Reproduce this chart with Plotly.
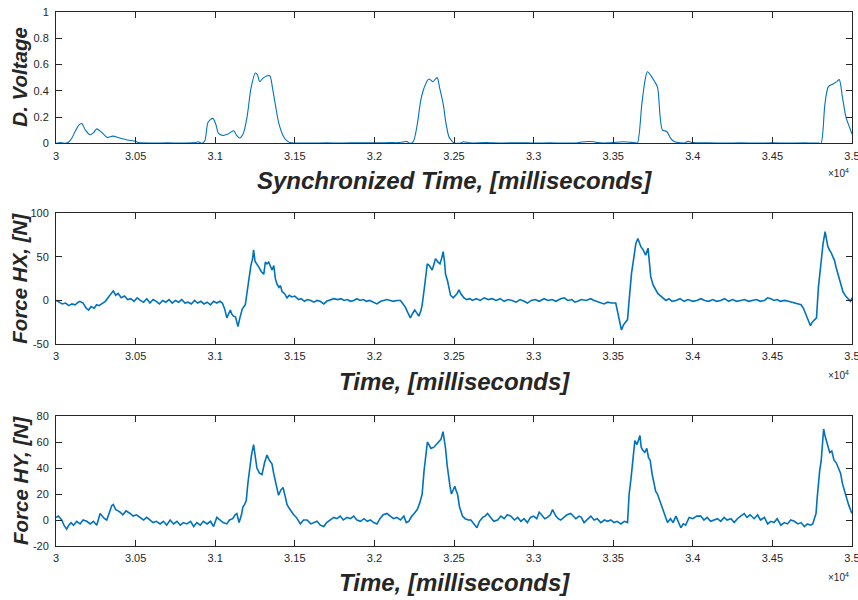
import plotly.graph_objects as go

# ---------------- data ----------------
volt_t = [30000, 30030, 30060, 30080, 30100, 30120, 30145, 30162, 30185, 30214, 30235, 30256, 30290, 30323,
          30356, 30400, 30450, 30500, 30520, 30600, 30700, 30800, 30870, 30894, 30915, 30935, 30955, 30985,
          31005, 31021, 31048, 31080, 31115, 31135, 31153, 31175, 31200, 31225, 31252, 31266, 31279, 31304,
          31342, 31360, 31377, 31400, 31430, 31450, 31472, 31500, 31600, 31700, 31800, 31900, 32000, 32100,
          32150, 32180, 32205, 32220, 32243, 32270, 32290, 32306, 32325, 32342, 32367, 32394, 32410, 32432,
          32450, 32468, 32485, 32499, 32540, 32560, 32600, 32700, 32800, 32900, 33000, 33100, 33200, 33280,
          33300, 33380, 33400, 33470, 33500, 33560, 33600, 33640, 33652, 33680, 33700, 33715, 33740, 33760,
          33778, 33795, 33810, 33836, 33860, 33880, 33910, 33950, 33970, 34000, 34100, 34200, 34300, 34400,
          34500, 34600, 34700, 34750, 34790, 34805, 34830, 34851, 34878, 34905, 34920, 34940, 34962, 34985,
          35000]
volt_v = [0.0, 0.005, 0.0, 0.01, 0.04, 0.09, 0.14, 0.15, 0.1, 0.065, 0.08, 0.11, 0.08, 0.045,
          0.055, 0.04, 0.025, 0.015, 0.005, 0.002, 0.003, 0.002, 0.005, 0.012, 0.0, 0.02, 0.16, 0.19,
          0.14, 0.075, 0.06, 0.07, 0.095, 0.06, 0.04, 0.07, 0.2, 0.42, 0.535, 0.52, 0.47, 0.5,
          0.515, 0.42, 0.3, 0.15, 0.05, 0.02, 0.005, 0.002, 0.002, 0.003, 0.002, 0.004, 0.003, 0.005,
          0.005, 0.01, 0.013, 0.0, 0.01, 0.15, 0.32, 0.4, 0.46, 0.49, 0.47, 0.5, 0.42, 0.3,
          0.15, 0.05, 0.02, 0.005, 0.002, 0.012, 0.003, 0.006, 0.002, 0.004, 0.002, 0.003, 0.002, 0.004,
          0.01, 0.012, 0.005, 0.003, 0.005, 0.012, 0.008, 0.004, 0.0, 0.3, 0.48, 0.545, 0.51, 0.47,
          0.43, 0.2, 0.1, 0.09, 0.04, 0.015, 0.005, 0.004, 0.015, 0.005, 0.003, 0.002, 0.003, 0.002,
          0.003, 0.002, 0.003, 0.002, 0.002, 0.0, 0.3, 0.43, 0.45, 0.47, 0.485, 0.35, 0.2, 0.12,
          0.07]

hx_t = [30000, 30020, 30040, 30060, 30080, 30100, 30120, 30140, 30150, 30170, 30190, 30205, 30220, 30240,
        30255, 30270, 30290, 30310, 30330, 30345, 30360, 30375, 30390, 30410, 30430, 30450, 30470, 30490,
        30510, 30530, 30550, 30570, 30590, 30610, 30630, 30650, 30670, 30690, 30710, 30730, 30750, 30770,
        30790, 30810, 30830, 30850, 30870, 30890, 30910, 30930, 30950, 30970, 30990, 31010, 31030, 31045,
        31060, 31073, 31085, 31095, 31105, 31115, 31128, 31143, 31155, 31170, 31189, 31200, 31210, 31224,
        31235, 31241, 31250, 31262, 31275, 31290, 31305, 31315, 31325, 31336, 31347, 31357, 31368, 31378,
        31388, 31400, 31410, 31420, 31435, 31451, 31465, 31482, 31500, 31524, 31540, 31560, 31580, 31600,
        31620, 31640, 31660, 31682, 31700, 31720, 31745, 31770, 31790, 31810, 31830, 31850, 31870, 31890,
        31910, 31930, 31950, 31970, 31990, 32016, 32040, 32060, 32079, 32100, 32120, 32140, 32164, 32180,
        32195, 32210, 32226, 32240, 32253, 32265, 32279, 32292, 32300, 32315, 32332, 32345, 32363, 32375,
        32384, 32400, 32412, 32422, 32432, 32440, 32447, 32460, 32478, 32495, 32510, 32520, 32531, 32545,
        32563, 32580, 32600, 32615, 32640, 32665, 32690, 32715, 32740, 32765, 32790, 32815, 32840, 32865,
        32890, 32915, 32940, 32961, 32985, 33010, 33035, 33066, 33090, 33115, 33140, 33170, 33192, 33215,
        33240, 33260, 33276, 33300, 33330, 33359, 33380, 33400, 33420, 33443, 33465, 33490, 33516, 33527,
        33537, 33552, 33565, 33575, 33590, 33600, 33615, 33627, 33642, 33655, 33673, 33688, 33704, 33719,
        33728, 33736, 33750, 33767, 33780, 33799, 33815, 33831, 33850, 33870, 33894, 33920, 33945, 33970,
        34000, 34025, 34050, 34075, 34100, 34125, 34150, 34175, 34200, 34225, 34250, 34275, 34300, 34325,
        34350, 34375, 34400, 34425, 34450, 34470, 34490, 34510, 34530, 34550, 34575, 34600, 34625, 34650,
        34680, 34695, 34711, 34725, 34739, 34750, 34764, 34777, 34789, 34806, 34818, 34831, 34840, 34848,
        34858, 34869, 34880, 34890, 34900, 34911, 34925, 34943, 34960, 34975, 34990, 35000]
hx_v = [0, -2, -4, -3, -6, -4, -5, -2, -1, -3, -9, -11, -7, -9,
        -5, -6, -3, -1, 4, 7, 11, 6, 8, 3, 5, 1, 2, -1,
        3, 0, -2, 2, -3, 1, -1, -4, 0, -2, 1, -3, 0, -2,
        1, -3, -2, -4, 0, -3, -1, -4, -2, -5, -1, -3, -1, -3,
        -10, -20, -14, -11, -16, -18, -19, -30, -20, -10, -5, 10, 25, 40,
        48, 58, 45, 42, 38, 33, 30, 44, 42, 44, 38, 35, 40, 25,
        19, 15, 17, 10, 8, 3, 6, 4, 5, 1, 2, -1, 1, 0,
        -2, 0, -1, -4, -1, 0, 2, 1, 2, 0, 1, -1, 0, 2,
        0, 1, -1, 0, -2, -4, -1, 0, 1, 0, -1, 0, 0, -4,
        -8, -14, -20, -15, -11, -14, -18, -12, -5, 16, 42, 40, 35, 42,
        48, 44, 42, 48, 56, 45, 30, 22, 6, 3, 6, 8, 12, 7,
        3, 1, 2, 0, 2, 0, 3, 1, 2, 0, 2, -1, 1, 0,
        -2, 1, -1, -3, 0, 1, -1, 2, 0, 1, -1, 2, 3, 0,
        1, -2, -1, 1, 0, 2, 0, -1, -2, -4, -2, -3, -3, -12,
        -22, -34, -28, -25, -22, 0, 31, 46, 65, 71, 62, 58, 52, 60,
        45, 27, 18, 12, 8, 5, 3, 0, 2, -1, 0, 2, -1, 1,
        -1, 0, 2, 0, -1, 1, -1, 0, 2, -1, 1, -1, 0, 1,
        -1, 0, 1, -1, 0, 3, 2, 0, 1, -1, 0, -1, -2, -3,
        -5, -9, -16, -22, -29, -25, -22, -20, 15, 46, 65, 79, 70, 62,
        58, 55, 50, 46, 38, 30, 20, 10, 5, 2, -1, 3]

hy_t = [30000, 30015, 30036, 30050, 30067, 30080, 30095, 30110, 30130, 30151, 30170, 30193, 30215, 30235,
        30256, 30270, 30277, 30290, 30305, 30319, 30335, 30350, 30360, 30375, 30390, 30403, 30420, 30440,
        30465, 30485, 30505, 30528, 30550, 30570, 30591, 30610, 30630, 30654, 30675, 30695, 30717, 30738,
        30760, 30780, 30800, 30822, 30845, 30865, 30885, 30906, 30925, 30950, 30970, 30990, 31010, 31030,
        31050, 31073, 31090, 31110, 31125, 31136, 31150, 31165, 31174, 31185, 31195, 31205, 31216, 31228,
        31241, 31252, 31262, 31278, 31294, 31310, 31325, 31340, 31357, 31367, 31377, 31390, 31398, 31412,
        31426, 31440, 31451, 31465, 31480, 31493, 31510, 31535, 31555, 31577, 31600, 31619, 31640, 31660,
        31682, 31700, 31720, 31745, 31765, 31785, 31805, 31828, 31850, 31870, 31890, 31912, 31935, 31955,
        31975, 31995, 32016, 32035, 32055, 32079, 32100, 32120, 32140, 32164, 32185, 32200, 32216, 32235,
        32250, 32269, 32285, 32300, 32312, 32321, 32333, 32342, 32355, 32374, 32390, 32405, 32418, 32431,
        32440, 32447, 32457, 32468, 32476, 32484, 32495, 32505, 32515, 32522, 32535, 32553, 32570, 32590,
        32606, 32625, 32644, 32660, 32680, 32695, 32711, 32730, 32750, 32774, 32795, 32815, 32835, 32857,
        32880, 32900, 32920, 32940, 32961, 32980, 33000, 33020, 33035, 33050, 33070, 33087, 33105, 33119,
        33140, 33155, 33170, 33190, 33210, 33233, 33250, 33265, 33286, 33300, 33317, 33340, 33359, 33380,
        33400, 33422, 33445, 33465, 33485, 33505, 33525, 33548, 33570, 33590, 33600, 33612, 33621, 33630,
        33636, 33650, 33660, 33668, 33676, 33684, 33698, 33711, 33722, 33732, 33745, 33757, 33767, 33778,
        33792, 33810, 33825, 33841, 33860, 33876, 33894, 33910, 33925, 33940, 33955, 33977, 34000, 34025,
        34050, 34070, 34090, 34112, 34134, 34155, 34175, 34197, 34215, 34240, 34260, 34280, 34300, 34323,
        34340, 34360, 34385, 34407, 34425, 34450, 34470, 34490, 34510, 34530, 34553, 34575, 34595, 34615,
        34638, 34660, 34680, 34701, 34720, 34740, 34753, 34765, 34774, 34782, 34789, 34797, 34806, 34815,
        34822, 34830, 34840, 34848, 34860, 34873, 34887, 34901, 34915, 34928, 34940, 34953, 34965, 34978,
        34990, 35000]
hy_v = [2, 3, 0, -4, -7, -4, -2, -4, -1, -3, 0, -1, -3, -1,
        -4, 2, 5, 3, 1, 0, 6, 11, 12, 8, 7, 6, 4, 7,
        5, 3, 4, 2, 0, 2, 0, -2, -1, -3, -1, -4, 0, -3,
        -1, -4, -2, -3, -1, -5, -2, -4, -1, -3, -1, -5, 2, 0,
        -2, -3, 0, 1, 4, 5, -2, 4, 10, 12, 15, 28, 40, 50,
        58, 48, 40, 36, 35, 44, 50, 46, 43, 36, 30, 24, 19, 23,
        25, 18, 12, 9, 6, 4, 2, -3, 0, 0, -3, -2, -1, -4,
        -5, -2, 0, 2, 1, 3, 0, 2, 1, 3, 0, -1, 1, -1,
        0, -2, -3, 1, 4, 5, 3, 1, 2, 0, 3, -2, -1, 3,
        5, 8, 13, 20, 38, 50, 60, 58, 55, 56, 58, 60, 62, 68,
        62, 55, 42, 30, 25, 20, 23, 26, 22, 20, 10, 3, 1, 0,
        0, -3, -6, -1, 2, 3, 5, 2, -1, 0, 3, 1, 4, 3,
        0, 2, -1, 1, -2, 2, 3, 1, 6, 4, 1, 2, 4, 8,
        3, 1, 0, 2, 4, 5, 3, 1, 3, 2, -2, 1, 3, 0,
        1, -2, 0, -1, 0, -2, -1, -3, -1, -2, 20, 32, 45, 55,
        61, 58, 62, 65, 56, 54, 52, 55, 48, 46, 35, 26, 22, 20,
        15, 10, 4, -2, 1, -2, 3, -1, -6, -3, -4, 2, 1, 3,
        3, 0, 2, -1, 0, 1, -1, 2, 0, 1, -2, 1, 3, 5,
        2, 4, 1, 4, 0, 2, -3, -1, -2, 1, -4, -2, -3, 0,
        -1, -3, -2, -5, -3, -4, -3, 2, 5, 18, 28, 38, 45, 60,
        70, 65, 60, 56, 52, 53, 46, 44, 40, 36, 28, 22, 18, 12,
        8, 5]

x_tickvals = [30000, 30500, 31000, 31500, 32000, 32500, 33000, 33500, 34000, 34500, 35000]
x_ticktext = ["3", "3.05", "3.1", "3.15", "3.2", "3.25", "3.3", "3.35", "3.4", "3.45", "3.5"]

panels = [
    dict(t=volt_t, v=volt_v, yrange=[0, 1], ytick=[0, 0.2, 0.4, 0.6, 0.8, 1],
         yttext=["0", "0.2", "0.4", "0.6", "0.8", "1"],
         ylabel="D. Voltage", xlabel="Synchronized Time, [milliseconds]", spline=True),
    dict(t=hx_t, v=hx_v, yrange=[-50, 100], ytick=[-50, 0, 50, 100],
         yttext=["-50", "0", "50", "100"],
         ylabel="Force HX, [N]", xlabel="Time, [milliseconds]", spline=False),
    dict(t=hy_t, v=hy_v, yrange=[-20, 80], ytick=[-20, 0, 20, 40, 60, 80],
         yttext=["-20", "0", "20", "40", "60", "80"],
         ylabel="Force HY, [N]", xlabel="Time, [milliseconds]", spline=False),
]

# ---------------- layout geometry ----------------
W, H = 858, 600
ML, MR, MT, MB = 56, 6, 12, 54
PH = H - MT - MB
def py(ypix):
    return (H - MB - ypix) / PH
def px(xpix):
    return (xpix - ML) / (W - ML - MR)

domains = [[py(143.3), 1.0], [py(344), py(213.3)], [0.0, py(416)]]
xtitle_y = [180, 381, 582]
x104_y = [173, 375, 577]

FONT = "Liberation Sans, Arial, Helvetica, sans-serif"
AX = "#262626"
BLUE = "#0072BD"

fig = go.Figure()
annotations = []
layout = dict(
    width=W, height=H,
    margin=dict(l=ML, r=MR, t=MT, b=MB, autoexpand=False),
    paper_bgcolor="white", plot_bgcolor="white",
    showlegend=False,
    font=dict(family=FONT, color=AX),
)

for i, p in enumerate(panels):
    n = "" if i == 0 else str(i + 1)
    line = dict(color=BLUE, width=1.1 if p["spline"] else 1.6)
    if p["spline"]:
        line["shape"] = "spline"
        line["smoothing"] = 0.8
    fig.add_trace(go.Scatter(x=p["t"], y=p["v"], mode="lines", line=line,
                             xaxis="x" + n, yaxis="y" + n, hoverinfo="skip"))
    layout["xaxis" + n] = dict(
        domain=[0, 1], anchor="y" + n, range=[30000, 35000],
        tickvals=x_tickvals, ticktext=x_ticktext,
        ticks="inside", ticklen=6, tickwidth=1, tickcolor=AX,
        showline=True, linecolor=AX, linewidth=1, mirror="ticks",
        showgrid=False, zeroline=False, automargin=False,
        tickfont=dict(size=11, color=AX, family=FONT),
        ticklabelstandoff=2, ticklabeloverflow="allow",
    )
    layout["yaxis" + n] = dict(
        domain=domains[i], anchor="x" + n, range=p["yrange"],
        tickvals=p["ytick"], ticktext=p["yttext"],
        ticks="inside", ticklen=6, tickwidth=1, tickcolor=AX,
        showline=True, linecolor=AX, linewidth=1, mirror="ticks",
        showgrid=False, zeroline=False, automargin=False,
        tickfont=dict(size=11, color=AX, family=FONT),
        ticklabelstandoff=4, ticklabeloverflow="allow",
    )
    annotations.append(dict(
        text="<b><i>%s</i></b>" % p["xlabel"], x=0.5, y=py(xtitle_y[i]),
        xref="paper", yref="paper", xanchor="center", yanchor="middle",
        showarrow=False, font=dict(size=24, color=AX, family=FONT)))
    annotations.append(dict(
        text="<b><i>%s</i></b>" % p["ylabel"], x=px(20), y=sum(domains[i]) / 2,
        xref="paper", yref="paper", xanchor="center", yanchor="middle", textangle=-90,
        showarrow=False, font=dict(size=20.5, color=AX, family=FONT)))
    annotations.append(dict(
        text="×10<sup>4</sup>", x=px(826), y=py(x104_y[i]),
        xref="paper", yref="paper", xanchor="left", yanchor="middle",
        showarrow=False, font=dict(size=10, color=AX, family=FONT)))

layout["annotations"] = annotations
fig.update_layout(**layout)
fig.write_html("out.html", config={"displayModeBar": False},
               post_script="document.body.style.margin='0px';document.body.style.overflow='hidden';")
